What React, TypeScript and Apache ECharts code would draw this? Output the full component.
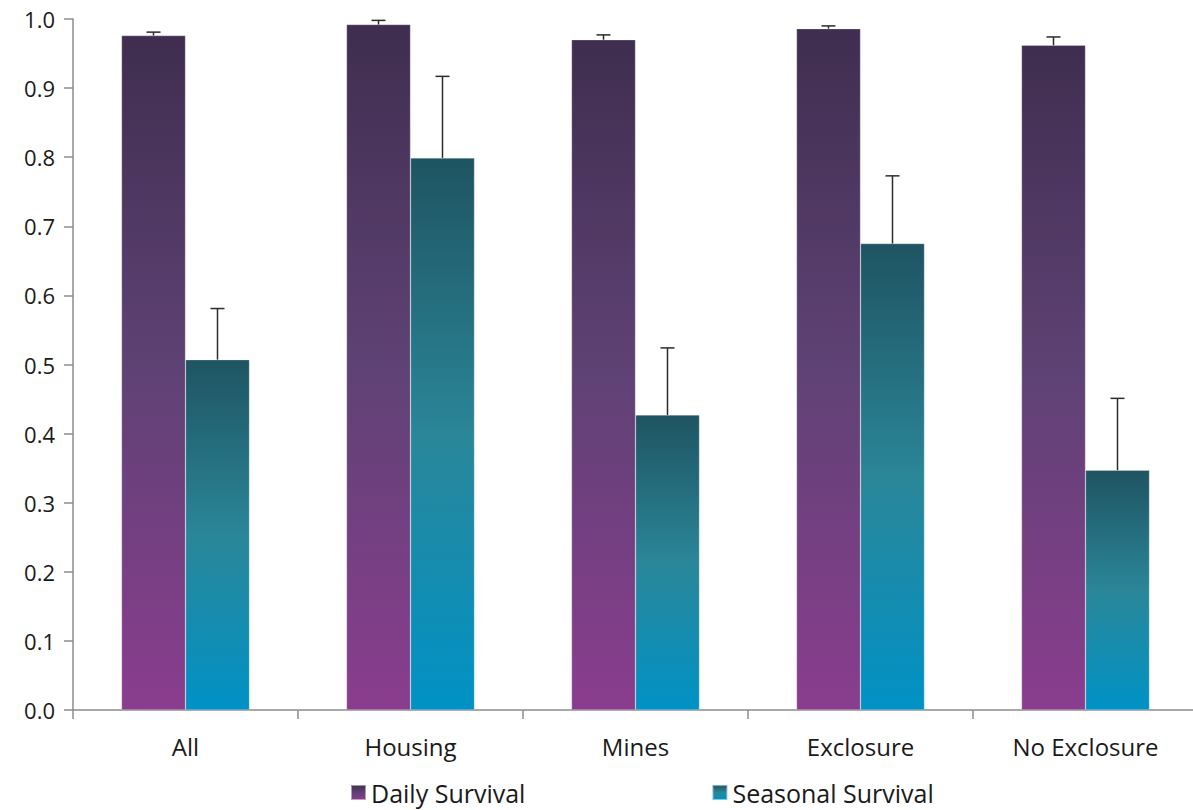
import React, { useEffect, useRef } from "react";
import * as echarts from "echarts";

const categories = ["All", "Housing", "Mines", "Exclosure", "No Exclosure"];
const dailySurvival = [0.976, 0.992, 0.97, 0.986, 0.962];
const dailyUpper = [0.981, 0.998, 0.977, 0.99, 0.974];
const seasonalSurvival = [0.507, 0.799, 0.427, 0.675, 0.347];
const seasonalUpper = [0.581, 0.917, 0.524, 0.773, 0.451];
const yTicks = [0, 0.1, 0.2, 0.3, 0.4, 0.5, 0.6, 0.7, 0.8, 0.9, 1.0];

const FONT = "'Open Sans', Lato, sans-serif";

const dailyGrad = () =>
  new echarts.graphic.LinearGradient(0, 0, 0, 1, [
    { offset: 0, color: "#3f2e4f" },
    { offset: 0.5, color: "#5f4275" },
    { offset: 1, color: "#8a3d8e" },
  ]);
const seasonalGrad = () =>
  new echarts.graphic.LinearGradient(0, 0, 0, 1, [
    { offset: 0, color: "#1f5462" },
    { offset: 0.5, color: "#2a8698" },
    { offset: 1, color: "#0092c6" },
  ]);

function errorSeries(name: string, base: number[], upper: number[], side: number) {
  return {
    type: "custom",
    name: name + "_err",
    silent: true,
    z: 5,
    renderItem: (params: any, api: any) => {
      const idx = api.value(0);
      const top = api.coord([idx, api.value(2)]);
      const bot = api.coord([idx, api.value(1)]);
      const band = api.size([1, 0])[0];
      const x = top[0] + side * band * 0.1422;
      const cap = 7;
      const style = { stroke: "#2b2b2b", lineWidth: 1.5 };
      return {
        type: "group",
        children: [
          { type: "line", shape: { x1: x, y1: bot[1], x2: x, y2: top[1] }, style },
          { type: "line", shape: { x1: x - cap, y1: top[1], x2: x + cap, y2: top[1] }, style },
        ],
      };
    },
    data: base.map((v, i) => [i, v, upper[i]]),
  };
}

export default function App() {
  const ref = useRef<HTMLDivElement>(null);
  useEffect(() => {
    const chart = echarts.init(ref.current!, undefined, { renderer: "svg" });
    chart.setOption({
      animation: false,
      backgroundColor: "#ffffff",
      grid: { left: 73, top: 19, width: 1125, height: 691, containLabel: false },
      legend: {
        bottom: 0,
        left: 345,
        itemWidth: 15,
        itemHeight: 15,
        itemGap: 186,
        icon: "rect",
        textStyle: { fontFamily: FONT, fontSize: 25, color: "#1a1a1a", padding: [0, 0, 0, 0] },
        data: [
          { name: "Daily Survival", itemStyle: { color: dailyGrad() } },
          { name: "Seasonal Survival", itemStyle: { color: seasonalGrad() } },
        ],
      },
      xAxis: {
        type: "category",
        data: categories,
        axisLine: { lineStyle: { color: "#8c8c8c", width: 1.5 } },
        axisTick: { show: true, length: 9, lineStyle: { color: "#8c8c8c", width: 1.5 } },
        axisLabel: { fontFamily: FONT, fontSize: 24, color: "#1a1a1a", margin: 24 },
      },
      yAxis: {
        type: "value",
        min: 0,
        max: 1,
        interval: 0.1,
        axisLine: { show: true, lineStyle: { color: "#8c8c8c", width: 1.5 } },
        axisTick: { show: true, length: 9, lineStyle: { color: "#8c8c8c", width: 1.5 } },
        splitLine: { show: false },
        axisLabel: {
          fontFamily: FONT,
          fontSize: 22,
          color: "#1a1a1a",
          margin: 18,
          formatter: (v: number) => (yTicks.includes(Math.round(v * 10) / 10) ? v.toFixed(1) : ""),
        },
      },
      series: [
        {
          name: "Daily Survival",
          type: "bar",
          data: dailySurvival,
          barWidth: "28.44%",
          barGap: "0%",
          itemStyle: { color: dailyGrad(), borderColor: "rgba(255,255,255,0.5)", borderWidth: 0.5 },
        },
        {
          name: "Seasonal Survival",
          type: "bar",
          data: seasonalSurvival,
          barWidth: "28.44%",
          barGap: "0%",
          itemStyle: { color: seasonalGrad(), borderColor: "rgba(255,255,255,0.5)", borderWidth: 0.5 },
        },
        errorSeries("Daily Survival", dailySurvival, dailyUpper, -1),
        errorSeries("Seasonal Survival", seasonalSurvival, seasonalUpper, 1),
      ],
    });
    return () => chart.dispose();
  }, []);
  return (
    <div style={{ position: "absolute", left: 0, top: 0, width: 1193, height: 810, overflow: "hidden" }}>
      <div ref={ref} style={{ width: 1205, height: 810 }} />
    </div>
  );
}
